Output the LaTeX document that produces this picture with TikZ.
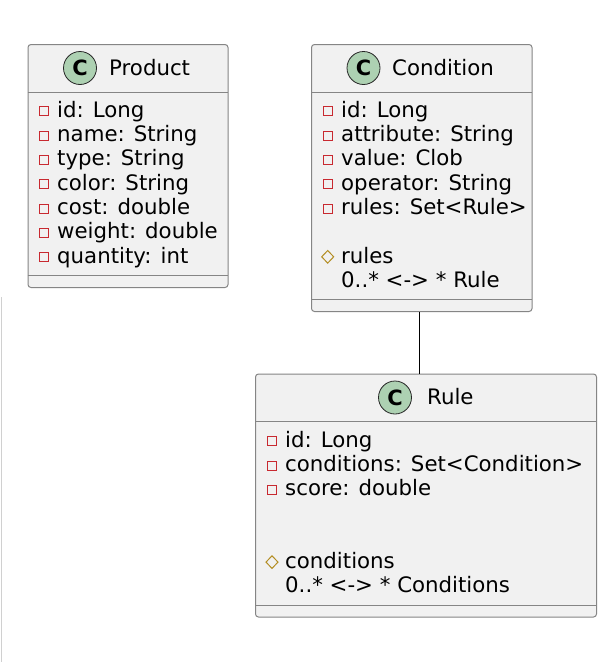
\documentclass[tikz,border=0pt]{standalone}
\usepackage{fontspec}
\setmainfont{DejaVu Sans}
\definecolor{boxfill}{HTML}{F1F1F1}
\definecolor{boxline}{HTML}{858585}
\definecolor{circfill}{HTML}{ADD1B2}
\definecolor{privred}{HTML}{C82930}
\definecolor{protgold}{HTML}{B38D22}
\definecolor{edgegray}{HTML}{D0D0D0}
\tikzset{
  classbox/.style={draw=boxline, fill=boxfill, line width=1pt, rounded corners=3pt, anchor=north west, inner sep=0pt},
  sepline/.style={draw=boxline, line width=1pt},
  classcirc/.style={circle, draw=black!85, line width=0.8pt, fill=circfill, minimum size=33pt, inner sep=0pt, font=\fontsize{21}{21}\selectfont\bfseries},
  titletext/.style={anchor=base west, inner sep=0pt, font=\fontsize{21.3}{24}\selectfont},
  fieldtext/.style={anchor=base west, inner sep=0pt, font=\fontsize{21.3}{24}\selectfont},
  privsq/.style={draw=privred, line width=1pt, minimum size=9pt, inner sep=0pt},
  protdia/.style={draw=protgold, line width=1pt},
  assoc/.style={draw=black, line width=1pt}
}
\newcommand\fieldrow[4]{%
  \node[privsq] (#1i) at (#2, #3-5.8) {};
  \node[fieldtext] (#1) at (#2+13.5, #3) {#4};
}
\begin{document}
\begin{tikzpicture}[x=1pt, y=-1pt]
\useasboundingbox (0,0) rectangle (612,662);
\fill[white] (0,0) rectangle (612,662);
% faint left edge line
\coordinate (edgetop) at (1,297);
\coordinate (edgebot) at (1,662);
\draw[edgegray, line width=1pt] (edgetop) -- (edgebot);

% ---------- Product ----------
\node[classbox, minimum width=200pt, minimum height=243pt] (product) at (27.5,44) {};
\draw[sepline] (27.5,92) -- (227.5,92);
\draw[sepline] (27.5,275.5) -- (227.5,275.5);
\node[classcirc] (productc) at (80,68) {C};
\node[titletext] (productt) at (109,75) {Product};
\fieldrow{p1}{43.5}{117}{id: Long}
\fieldrow{p2}{43.5}{141.3}{name: String}
\fieldrow{p3}{43.5}{165.6}{type: String}
\fieldrow{p4}{43.5}{190}{color: String}
\fieldrow{p5}{43.5}{214.3}{cost: double}
\fieldrow{p6}{43.5}{238.6}{weight: double}
\fieldrow{p7}{43.5}{263}{quantity: int}

% ---------- Condition ----------
\node[classbox, minimum width=220.5pt, minimum height=267pt] (condition) at (311,44) {};
\draw[sepline] (311,92) -- (531.5,92);
\draw[sepline] (311,299) -- (531.5,299);
\node[classcirc] (conditionc) at (363.5,68) {C};
\node[titletext] (conditiont) at (392,75) {Condition};
\fieldrow{c1}{327.5}{117}{id: Long}
\fieldrow{c2}{327.5}{141.3}{attribute: String}
\fieldrow{c3}{327.5}{165.6}{value: Clob}
\fieldrow{c4}{327.5}{190}{operator: String}
\fieldrow{c5}{327.5}{214.3}{rules: Set<Rule>}
\draw[protdia] (327.7,250.5) -- (333.7,256.8) -- (327.7,263.1) -- (321.7,256.8) -- cycle;
\node[fieldtext] (c6) at (341,263) {rules};
\node[fieldtext] (c7) at (341,287.3) {0..* <-> * Rule};

% ---------- Rule ----------
\node[classbox, minimum width=341pt, minimum height=243pt] (rule) at (255,373.5) {};
\draw[sepline] (255,421.7) -- (596,421.7);
\draw[sepline] (255,605) -- (596,605);
\node[classcirc] (rulec) at (395,397.5) {C};
\node[titletext] (rulet) at (427,404) {Rule};
\fieldrow{r1}{271.5}{447}{id: Long}
\fieldrow{r2}{271.5}{471.3}{conditions: Set<Condition>}
\fieldrow{r3}{271.5}{495.6}{score: double}
\draw[protdia] (272,555.8) -- (278,562.1) -- (272,568.4) -- (266,562.1) -- cycle;
\node[fieldtext] (r6) at (285,568.3) {conditions};
\node[fieldtext] (r7) at (285,592.6) {0..* <-> * Conditions};

% ---------- association ----------
\coordinate (linex) at (419.3,0);
\draw[assoc] (condition.south -| linex) -- (rule.north -| linex);
\end{tikzpicture}
\end{document}
